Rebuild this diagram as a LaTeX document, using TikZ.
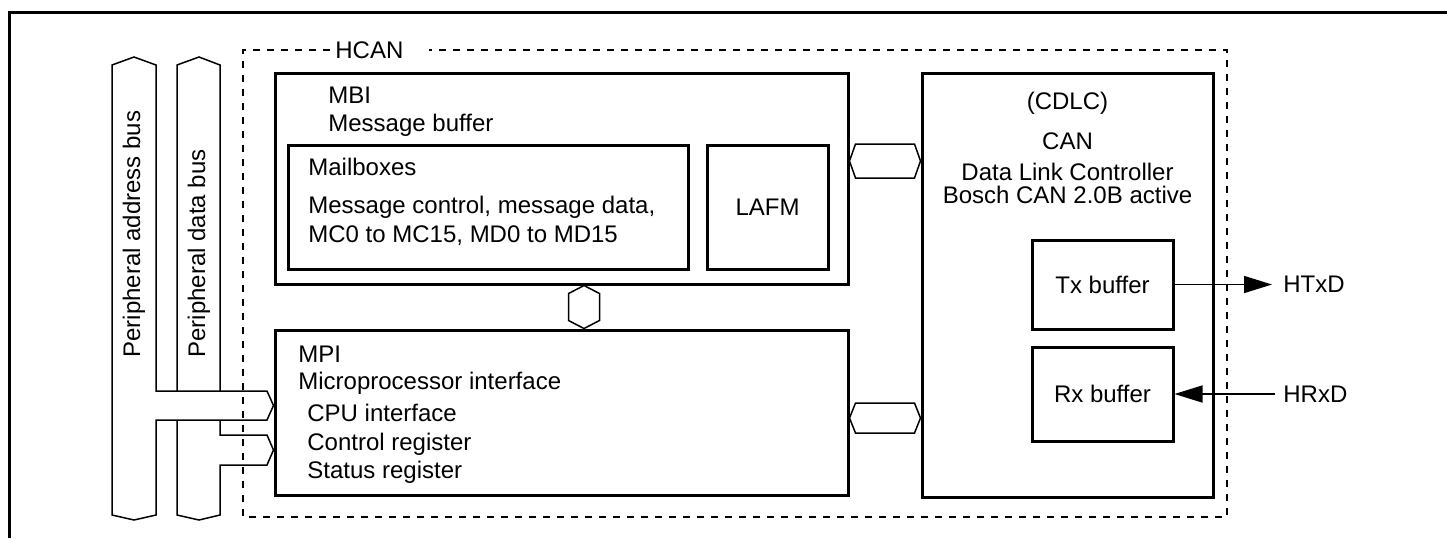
\documentclass[tikz,border=0pt]{standalone}
\usepackage{fontspec}
\setmainfont{Liberation Sans}
\usetikzlibrary{arrows.meta, calc, fit}

% bus links drawn as hexagons between two points
\newcommand{\hexlink}[3]{%
  \draw[bus] (#1) -- ($(#1)+(6,-#3)$) -- ($(#2)+(-6,-#3)$) -- (#2)
    -- ($(#2)+(-6,#3)$) -- ($(#1)+(6,#3)$) -- cycle;}
\newcommand{\hexlinkv}[3]{%
  \draw[bus] (#1) -- ($(#1)+(#3,8)$) -- ($(#2)+(#3,-8)$) -- (#2)
    -- ($(#2)+(-#3,-8)$) -- ($(#1)+(-#3,8)$) -- cycle;}

\begin{document}
\begin{tikzpicture}[x=0.5pt, y=-0.5pt,
    every node/.style={font=\fontsize{12}{14}\selectfont, inner sep=0pt},
    blk/.style={draw, line width=1.5pt, inner sep=0pt},
    bus/.style={line width=0.75pt},
    sig/.style={line width=0.75pt, -{Triangle[length=14pt, width=8.5pt]}},
    txt/.style={anchor=base west, align=left}]
  \useasboundingbox (0,0) rectangle (1447,538);
  % outer frame
  \draw[line width=1.5pt] (9.5,538) -- (9.5,12.5) -- (1447,12.5);
  % HCAN area
  \node[anchor=west] (hcan) at (335,50) {HCAN};
  \draw[line width=0.6pt, dash pattern=on 3.5pt off 3.5pt]
    (hcan.west) ++(-5,0) -| (243,517) -| (1227,50) -- ($(hcan.east)+(25,0)$);
  % blocks
  \node[blk, fit={(275,73) (848,284)}] (mbi) {};
  \node[blk, fit={(288,145) (688,269)}] (mail) {};
  \node[blk, fit={(707,145) (828,269)}] (lafm) {};
  \node[blk, fit={(275,330) (848,495)}] (mpi) {};
  \node[blk, fit={(922,73) (1213,497)}] (cdlc) {};
  \node[blk, fit={(1032,240) (1173,329)}] (txbuf) {};
  \node[blk, fit={(1032,347) (1173,441)}] (rxbuf) {};
  % block texts (placed by the baseline of their last line)
  \node[txt] (mbitxt) at (328,131) {MBI\\Message buffer};
  \node[txt] (mailtxt) at (308,242) {Mailboxes\\[5pt]Message control, message data,\\[0.5pt]MC0 to MC15, MD0 to MD15};
  \node (lafmtxt) at (lafm.center) {LAFM};
  \node[txt] (mpitxt) at (298,478) {MPI\\[-0.5pt]Microprocessor interface\\[2pt]\hspace{4.5pt}CPU interface\\[0.5pt]\hspace{4.5pt}Control register\\\hspace{4.5pt}Status register};
  \node[anchor=base, align=center] (cdlctxt) at (1067.5,203) {(CDLC)\\[6pt]CAN\\[1.5pt]Data Link Controller\\[-2.5pt]Bosch CAN 2.0B active};
  \node (txtxt) at (txbuf.center) {Tx buffer};
  \node (rxtxt) at (rxbuf.center) {Rx buffer};
  % links between blocks
  \hexlink{mbi.east |- 0,161}{cdlc.west |- 0,161}{17}
  \hexlink{mpi.east |- 0,418}{cdlc.west |- 0,418}{15}
  \hexlinkv{mbi.south -| 584,0}{mpi.north -| 584,0}{15.5}
  % external signals
  \node[anchor=west] (htxd) at (1283,284.5) {HTxD};
  \node[anchor=west] (hrxd) at (1283,394) {HRxD};
  \draw[sig, shorten >=5.5pt] (txbuf.east) -- (htxd.west);
  \draw[sig, shorten <=4pt] (hrxd.west) -- (rxbuf.east);
  % peripheral buses
  \draw[bus] (156,391) -- (156,65) -- (134,57) -- (112,65) -- (112,515) -- (134,520)
    -- (156,515) -- (156,420) -- (267,420) -- (mpi.west |- 0,405.5) -- (267,391) -- cycle;
  \draw[bus] (177,391) -- (177,65) -- (199,57) -- (220,65) -- (220,391);
  \draw[bus] (220,420) -- (220,435) -- (267,435) -- (mpi.west |- 0,450) -- (267,465)
    -- (220,465) -- (220,515) -- (199,520) -- (177,515) -- (177,420);
  \node[rotate=90, anchor=west] (abus) at (134,358) {Peripheral address bus};
  \node[rotate=90, anchor=west] (dbus) at (199,358) {Peripheral data bus};
\end{tikzpicture}
\end{document}
